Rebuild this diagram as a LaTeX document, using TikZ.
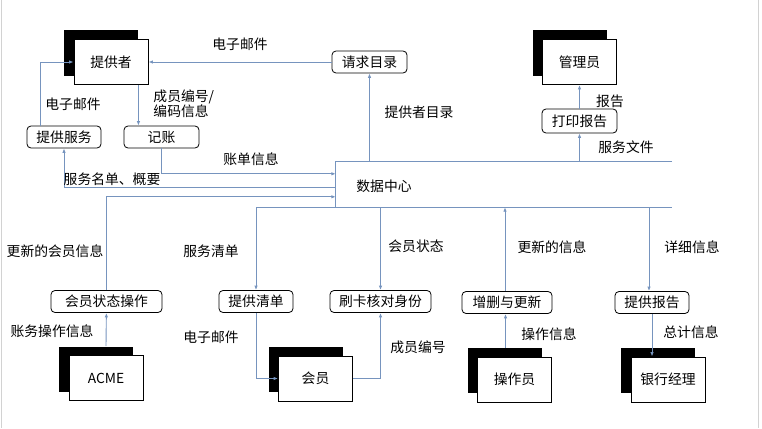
\documentclass[tikz,border=0pt]{standalone}
\usepackage{fontspec}
\setmainfont{Noto Sans CJK SC}
\usetikzlibrary{shadows,arrows.meta}

\definecolor{flowblue}{RGB}{118,148,190}

\begin{document}
\begin{tikzpicture}[
                            x=1pt, y=-1pt,
                            >={Latex[length=4.5pt,width=3.5pt]},
                            font=\fontsize{13.8}{15}\selectfont,
                            entity/.style={draw, rectangle, fill=white, line width=0.9pt,
                                minimum width=74pt, minimum height=45pt,
                                drop shadow={opacity=1, fill=black, shadow xshift=-10pt, shadow yshift=9pt}},
                            process/.style={draw, rectangle, rounded corners=4pt, line width=0.8pt,
                                inner sep=2pt, minimum height=22pt},
                            flow/.style={draw=flowblue, line width=0.9pt, ->},
                            store/.style={draw=flowblue, line width=0.9pt},
                            lbl/.style={inner sep=0pt}
                            ]

                            \useasboundingbox (0,0) rectangle (762,428);
                            \draw[gray!35] (1,0) -- (1,428);
                            \draw[gray!35] (758,0) -- (758,428);

                            % external entities
                            \node [entity] (provider) at (111,62) {提供者};
                            \node [entity] (admin) at (579.5,62) {管理员};
                            \node [entity] (acme) at (106,378) {ACME};
                            \node [entity] (member) at (315.5,378.5) {会员};
                            \node [entity] (operator) at (514.5,379.5) {操作员};
                            \node [entity] (bankmgr) at (668,379.5) {银行经理};

                            % processes
                            \node [process, minimum width=74pt] (svc) at (64,137) {提供服务};
                            \node [process, minimum width=75pt] (bill) at (161.5,137) {记账};
                            \node [process, minimum width=75pt] (req) at (369.5,62) {请求目录};
                            \node [process, minimum width=75pt, minimum height=24pt] (print) at (579.5,121) {打印报告};
                            \node [process, minimum width=111pt] (mstat) at (106.5,301.5) {会员状态操作};
                            \node [process, minimum width=74pt] (list) at (256,301.5) {提供清单};
                            \node [process, minimum width=101pt] (card) at (380.5,301.5) {刷卡核对身份};
                            \node [process, minimum width=90pt] (upd) at (507,302.5) {增删与更新};
                            \node [process, minimum width=74pt] (rep) at (652,302.5) {提供报告};

                            % data store
                            \node [inner sep=0pt, minimum width=336pt, minimum height=45pt] (dc) at (504,184.5) {};
                            \node [lbl] (dclabel) at (384,186) {数据中心};
                            \draw[store] (dc.north east) -- (dc.north west) -- (dc.south west) -- (dc.south east);

                            \coordinate (pb) at ([xshift=-10pt]provider.south east);
                            \coordinate (sv) at ([xshift=14pt]svc.north west);
                            \coordinate (dcin1) at ([yshift=-12pt]dc.north west);
                            \coordinate (dcout1) at ([yshift=-26pt]dc.north west);
                            \coordinate (dcin2) at ([yshift=-35pt]dc.north west);
                            \coordinate (acmetop) at ([yshift=9pt]acme.north);
                            \coordinate (optop) at ([xshift=-9pt,yshift=9pt]operator.north);
                            \coordinate (updtop) at ([xshift=-2pt]upd.north);
                            \coordinate (reptop) at ([xshift=-3pt]rep.north);

                            % flows
                            \draw[flow] (req) -- (provider) node[lbl] at (240,44) {电子邮件};
                            \draw[flow] (req |- dc.north) -- (req) node[lbl] at (419,112) {提供者目录};
                            \draw[flow] (pb) -- (pb |- bill.north) node[lbl, anchor=west, align=left] at (153,104) {成员编号/\\编码信息};
                            \draw[flow] (sv) |- (provider.west) node[lbl] at (73,104) {电子邮件};
                            \draw[flow] (bill) |- (dcin1) node[lbl] at (251,159) {账单信息};
                            \draw[flow] (dcout1) -| (svc) node[lbl] at (112,179) {服务名单、概要};
                            \draw[flow] (mstat) |- (dcin2) node[lbl] at (55,251) {更新的会员信息};
                            \draw[flow] (acmetop) -- (mstat) node[lbl] at (52,331) {账务操作信息};
                            \draw[flow] (dc.south west) -| (list) node[lbl] at (211,251) {服务清单};
                            \draw[flow] (card |- dc.south) -- (card) node[lbl] at (416,246) {会员状态};
                            \draw[flow] (list) |- (member) node[lbl] at (211,337) {电子邮件};
                            \draw[flow] (member) -| (card) node[lbl] at (418,347) {成员编号};
                            \draw[flow] (updtop) -- (updtop |- dc.south) node[lbl] at (552,247) {更新的信息};
                            \draw[flow] (optop) -- (optop |- upd.south) node[lbl] at (549,334) {操作信息};
                            \draw[flow] (reptop |- dc.south) -- (reptop) node[lbl] at (692,247) {详细信息};
                            \draw[flow] (rep) -- (rep |- bankmgr.north) node[lbl] at (691,332) {总计信息};
                            \draw[flow] (print) -- (admin) node[lbl] at (610,101) {报告};
                            \draw[flow] (print |- dc.north) -- (print) node[lbl] at (626,147) {服务文件};
                        \end{tikzpicture}
\end{document}
